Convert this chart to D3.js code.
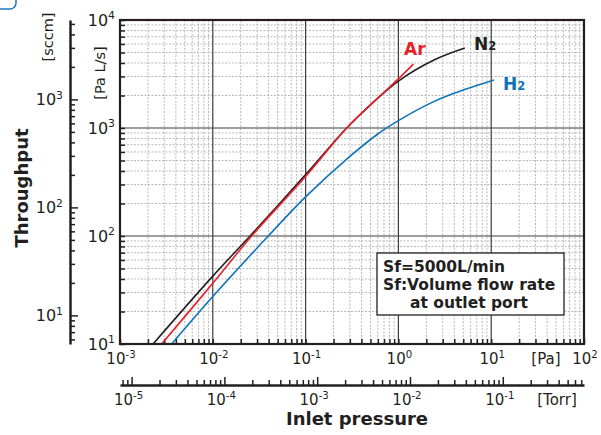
<!DOCTYPE html>
<html>
<head>
<meta charset="utf-8">
<script src="https://cdn.jsdelivr.net/npm/d3@7"></script>
<style>
  body { margin: 0; background: #fff; }
  svg { display: block; font-family: "DejaVu Sans", sans-serif; }
</style>
</head>
<body>
<div id="chart"></div>
<script>
// Data: inlet pressure [Pa] vs throughput [Pa L/s]
const n2Pressure = [2.27e-3, 0.01, 0.0252, 0.1, 0.277, 0.5, 1, 2.48, 5.2];
const n2Flow     = [10, 42.5, 100, 370, 1000, 1640, 2720, 4300, 5500];
const arPressure = [2.81e-3, 0.01, 0.0262, 0.1, 0.277, 0.583, 1, 1.45];
const arFlow     = [10, 36.5, 100, 355, 1000, 1850, 2850, 3900];
const h2Pressure = [3.6e-3, 0.01, 0.0396, 0.1, 0.3, 0.6, 1, 2.19, 3.6, 10.7];
const h2Flow     = [10, 27.5, 100, 230, 545, 880, 1170, 1690, 2030, 2780];

const paExponents   = [-3, -2, -1, 0, 1, 2];
const torrExponents = [-5, -4, -3, -2, -1];
const flowExponents = [1, 2, 3, 4];
const sccmExponents = [1, 2, 3];
const legendLines = ["Sf=5000L/min", "Sf:Volume flow rate", "at outlet port"];

// Constants
const width = 601, height = 435,
  plot = { left: 120, right: 584, top: 20, bottom: 344 },
  paPerTorr = 133.32,
  paLsPerSccm = 1.84;

const colors = { n2: "#231f20", ar: "#e8202a", h2: "#0f73b9" };

const x = d3.scaleLog().domain([1e-3, 1e2]).range([plot.left, plot.right]);
const y = d3.scaleLog().domain([10, 1e4]).range([plot.bottom, plot.top]);
const xTorr = d3.scaleLog().domain([1e-3 / paPerTorr, 1e2 / paPerTorr]).range([plot.left, plot.right]);
const ySccm = d3.scaleLog().domain([10 / paLsPerSccm, 1e4 / paLsPerSccm]).range([plot.bottom, plot.top]);

// minor values 1..9 x 10^k inside a domain
function logTicks(domain) {
  var out = [];
  for (var k = Math.floor(Math.log10(domain[0])) - 1; k <= Math.ceil(Math.log10(domain[1])); k++) {
    for (var m = 1; m < 10; m++) {
      var v = m * Math.pow(10, k);
      if (v >= domain[0] * 0.999 && v <= domain[1] * 1.001) out.push(v);
    }
  }
  return out;
}
const isDecade = v => Math.abs(Math.log10(v) - Math.round(Math.log10(v))) < 1e-6;

var svg = d3.select("#chart").append("svg")
  .attr("width", width)
  .attr("height", height);

// corner decoration
svg.append("rect")
  .attr("x", -20).attr("y", -20)
  .attr("width", 36).attr("height", 29)
  .attr("rx", 6)
  .attr("fill", "none")
  .attr("stroke", "#1f78c1")
  .attr("stroke-width", 1.5);

// Grid
var grid = svg.append("g");
var xMinor = logTicks(x.domain()), yMinor = logTicks(y.domain());

grid.selectAll("line.vminor")
  .data(xMinor.filter(v => !isDecade(v)))
  .enter().append("line")
    .attr("x1", d => x(d)).attr("x2", d => x(d))
    .attr("y1", plot.top).attr("y2", plot.bottom)
    .attr("stroke", "#b8b8b8")
    .attr("stroke-dasharray", "2,1.5")
    .attr("stroke-width", 1);

grid.selectAll("line.hminor")
  .data(yMinor.filter(v => !isDecade(v)))
  .enter().append("line")
    .attr("y1", d => y(d)).attr("y2", d => y(d))
    .attr("x1", plot.left).attr("x2", plot.right)
    .attr("stroke", "#b8b8b8")
    .attr("stroke-dasharray", "2,1.5")
    .attr("stroke-width", 1);

grid.selectAll("line.vmajor")
  .data(paExponents.slice(1, -1))
  .enter().append("line")
    .attr("x1", d => x(Math.pow(10, d))).attr("x2", d => x(Math.pow(10, d)))
    .attr("y1", plot.top).attr("y2", plot.bottom)
    .attr("stroke", "#3c3c3c")
    .attr("stroke-width", 1.2);

grid.selectAll("line.hmajor")
  .data(flowExponents.slice(1, -1))
  .enter().append("line")
    .attr("y1", d => y(Math.pow(10, d))).attr("y2", d => y(Math.pow(10, d)))
    .attr("x1", plot.left).attr("x2", plot.right)
    .attr("stroke", "#3c3c3c")
    .attr("stroke-width", 1.2);

// Inward ticks on left and bottom edges
var bottomAxis = svg.append("g")
  .attr("transform", "translate(0," + plot.bottom + ")")
  .call(d3.axisBottom(x).tickValues(xMinor).tickSize(-5).tickSizeOuter(0).tickFormat(""));
var leftAxis = svg.append("g")
  .attr("transform", "translate(" + plot.left + ",0)")
  .call(d3.axisLeft(y).tickValues(yMinor).tickSize(-5).tickSizeOuter(0).tickFormat(""));
[bottomAxis, leftAxis].forEach(g => {
  g.select(".domain").remove();
  g.selectAll(".tick line").attr("stroke", "#231f20").attr("stroke-width", 1.5);
});

// Curves
var line = d3.line()
  .x(d => x(d[0]))
  .y(d => y(d[1]))
  .curve(d3.curveCatmullRom.alpha(0.5));

var series = [
  { p: n2Pressure, q: n2Flow, color: colors.n2 },
  { p: h2Pressure, q: h2Flow, color: colors.h2 },
  { p: arPressure, q: arFlow, color: colors.ar },
];
svg.append("clipPath").attr("id", "clip")
  .append("rect")
    .attr("x", plot.left).attr("y", plot.top)
    .attr("width", plot.right - plot.left).attr("height", plot.bottom - plot.top);

svg.append("g").attr("clip-path", "url(#clip)")
  .selectAll("path")
  .data(series)
  .enter().append("path")
    .attr("d", s => line(d3.zip(s.p, s.q)))
    .attr("fill", "none")
    .attr("stroke", s => s.color)
    .attr("stroke-width", 1.6);

// Frame
svg.append("rect")
  .attr("x", plot.left).attr("y", plot.top)
  .attr("width", plot.right - plot.left).attr("height", plot.bottom - plot.top)
  .attr("fill", "none")
  .attr("stroke", "#231f20")
  .attr("stroke-width", 2.2);

// power-of-ten label
function pow10(g, px, py, exp, anchor, size) {
  var t = g.append("text")
    .attr("x", px).attr("y", py)
    .attr("text-anchor", anchor)
    .attr("font-size", size)
    .attr("fill", "#231f20");
  t.append("tspan").text("10");
  t.append("tspan")
    .attr("font-size", size * 0.68)
    .attr("dy", -size * 0.42)
    .text(exp < 0 ? "-" + (-exp) : exp);
  return t;
}

var labels = svg.append("g");
paExponents.forEach(e => pow10(labels, x(Math.pow(10, e)) + 1, 364, e, "middle", 15));
flowExponents.forEach(e => pow10(labels, 115, y(Math.pow(10, e)) + 6, e, "end", 16));
sccmExponents.forEach(e => pow10(labels, 63, ySccm(Math.pow(10, e)) + 6, e, "end", 16));
torrExponents.forEach(e => pow10(labels, xTorr(Math.pow(10, e)) - 3, 405, e, "middle", 15));

labels.append("text")
  .attr("x", 546).attr("y", 364)
  .attr("text-anchor", "middle")
  .attr("font-size", 15)
  .attr("fill", "#231f20")
  .text("[Pa]");
labels.append("text")
  .attr("x", 557).attr("y", 405)
  .attr("text-anchor", "middle")
  .attr("font-size", 15)
  .attr("fill", "#231f20")
  .text("[Torr]");

// Torr axis
var torrAxis = svg.append("g")
  .attr("transform", "translate(0,385)")
  .call(d3.axisTop(xTorr).tickValues(logTicks(xTorr.domain())).tickSizeOuter(0).tickFormat(""));
torrAxis.select(".domain").attr("stroke", "#231f20").attr("stroke-width", 2.5);
torrAxis.selectAll(".tick line")
  .attr("y2", d => isDecade(d) ? -8 : -5)
  .attr("stroke", "#231f20")
  .attr("stroke-width", 1.5);

// sccm axis
var sccmAxis = svg.append("g")
  .attr("transform", "translate(70,0)")
  .call(d3.axisRight(ySccm).tickValues(logTicks(ySccm.domain())).tickSizeOuter(0).tickFormat(""));
sccmAxis.select(".domain").attr("stroke", "#231f20").attr("stroke-width", 2.5);
sccmAxis.selectAll(".tick line")
  .attr("x2", d => isDecade(d) ? 8 : 5)
  .attr("stroke", "#231f20")
  .attr("stroke-width", 1.5);

// Axis titles
svg.append("text")
  .attr("transform", "translate(28,188) rotate(-90)")
  .attr("text-anchor", "middle")
  .attr("font-size", 18)
  .attr("font-weight", "bold")
  .attr("fill", "#231f20")
  .text("Throughput");
svg.append("text")
  .attr("transform", "translate(53,37) rotate(-90)")
  .attr("text-anchor", "middle")
  .attr("font-size", 14.5)
  .attr("fill", "#231f20")
  .text("[sccm]");
svg.append("text")
  .attr("transform", "translate(105,73) rotate(-90)")
  .attr("text-anchor", "middle")
  .attr("font-size", 14.5)
  .attr("fill", "#231f20")
  .text("[Pa L/s]");
svg.append("text")
  .attr("x", 357).attr("y", 425)
  .attr("text-anchor", "middle")
  .attr("font-size", 18)
  .attr("font-weight", "bold")
  .attr("fill", "#231f20")
  .text("Inlet pressure");

// Curve labels
function gasLabel(px, py, main, sub, color) {
  var t = svg.append("text")
    .attr("x", px).attr("y", py)
    .attr("font-size", 17)
    .attr("font-weight", "bold")
    .attr("fill", color);
  t.append("tspan").text(main);
  if (sub) t.append("tspan").attr("font-size", 11.5).text(sub);
}
gasLabel(474, 50, "N", "2", colors.n2);
gasLabel(404, 55, "Ar", null, colors.ar);
gasLabel(503, 90, "H", "2", colors.h2);

// Legend box
var legend = svg.append("g");
legend.append("rect")
  .attr("x", 377).attr("y", 253)
  .attr("width", 187).attr("height", 62)
  .attr("fill", "#fff")
  .attr("stroke", "#231f20")
  .attr("stroke-width", 1.3);
legend.selectAll("text")
  .data(legendLines)
  .enter().append("text")
    .attr("x", (d, i) => i === 2 ? 410 : 383)
    .attr("y", (d, i) => 272 + i * 18)
    .attr("font-size", 15.5)
    .attr("font-weight", "bold")
    .attr("fill", "#231f20")
    .text(d => d);
</script>
</body>
</html>
